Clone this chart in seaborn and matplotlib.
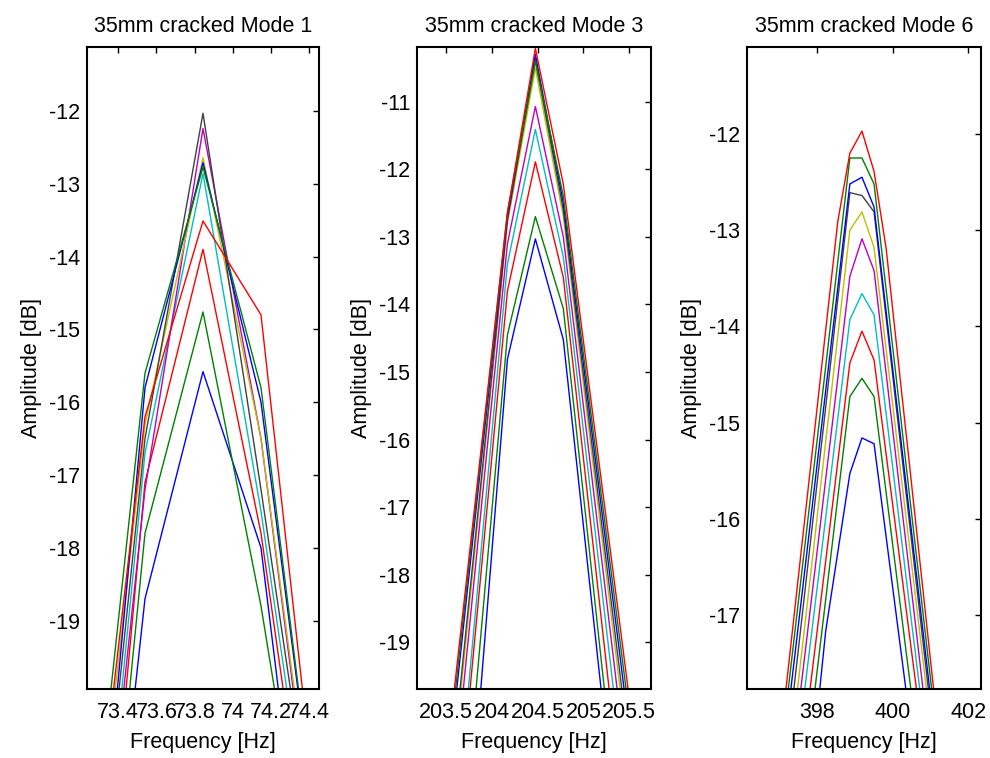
import matplotlib
matplotlib.use("Agg")
import matplotlib.pyplot as plt
import seaborn as sns
import pandas as pd

# ---------------- data ----------------
line_colors = ["#0000ff", "#008000", "#ff0000", "#00bfbf", "#bf00bf",
               "#bfbf00", "#404040", "#0000ff", "#008000", "#ff0000"]

titles = ["35mm cracked Mode 1", "35mm cracked Mode 3", "35mm cracked Mode 6"]

# Mode 1
freq_m1 = [73.236, 73.540, 73.844, 74.148, 74.452]
amp_m1 = [
    [-26.0, -18.7, -15.58, -18.0, -24.5],
    [-25.9, -17.8, -14.76, -18.8, -23.7],
    [-25.8, -17.1, -13.90, -17.8, -23.4],
    [-24.8, -16.7, -12.86, -17.5, -23.0],
    [-24.7, -17.2, -12.24, -16.5, -22.7],
    [-23.4, -16.3, -12.64, -16.5, -22.5],
    [-24.2, -16.5, -12.03, -17.2, -22.6],
    [-24.5, -15.8, -12.71, -16.0, -22.2],
    [-23.0, -15.6, -12.77, -15.8, -22.2],
    [-23.1, -16.2, -13.51, -14.8, -22.0],
]

# Mode 3
freq_m3 = [203.255, 203.560, 203.865, 204.170, 204.475, 204.780, 205.085, 205.390, 205.695]
amp_m3 = [
    [-30.1, -25.0, -19.93, -14.81, -13.03, -14.52, -18.35, -22.17, -26.0],
    [-28.4, -23.78, -19.12, -14.45, -12.70, -14.06, -17.90, -21.72, -25.5],
    [-27.0, -22.6, -18.21, -13.8, -11.89, -13.6, -17.32, -21.03, -24.7],
    [-26.9, -22.39, -17.9, -13.4, -11.41, -13.3, -16.87, -20.43, -24.0],
    [-25.6, -21.45, -17.28, -13.1, -11.07, -13.0, -16.48, -19.95, -23.4],
    [-25.3, -21.1, -16.96, -12.8, -10.50, -12.7, -16.15, -19.58, -23.0],
    [-25.0, -20.93, -16.85, -12.75, -10.38, -12.6, -15.99, -19.37, -22.76],
    [-24.3, -20.41, -16.56, -12.7, -10.30, -12.5, -15.81, -19.11, -22.42],
    [-24.0, -20.23, -16.44, -12.63, -10.40, -12.4, -15.65, -18.89, -22.14],
    [-23.8, -20.06, -16.36, -12.65, -10.21, -12.22, -15.45, -18.66, -21.9],
]

# Mode 6
freq_m6 = [396.95, 397.27, 397.59, 397.91, 398.23, 398.55, 398.87, 399.19,
           399.51, 399.83, 400.15, 400.47, 400.79, 401.11, 401.43]
amp_m6 = [
    [-22.0, -20.8, -19.6, -18.4, -17.17, -16.35, -15.53, -15.16, -15.22, -16.19, -17.16, -18.13, -19.1, -20.07, -21.0],
    [-21.0, -20.0, -18.95, -17.89, -16.84, -15.78, -14.73, -14.54, -14.73, -15.73, -16.73, -17.73, -18.73, -19.73, -20.7],
    [-20.6, -19.5, -18.5, -17.47, -16.44, -15.41, -14.38, -14.05, -14.35, -15.33, -16.3, -17.28, -18.25, -19.2, -20.2],
    [-20.1, -19.08, -18.05, -17.02, -15.99, -14.96, -13.93, -13.66, -13.88, -14.91, -15.94, -16.97, -18.0, -19.0, -20.1],
    [-19.8, -18.76, -17.71, -16.65, -15.59, -14.54, -13.48, -13.09, -13.42, -14.49, -15.57, -16.64, -17.72, -18.79, -19.9],
    [-19.6, -18.51, -17.41, -16.31, -15.2, -14.1, -13.0, -12.81, -13.18, -14.24, -15.3, -16.36, -17.42, -18.48, -19.5],
    [-19.3, -18.18, -17.07, -15.95, -14.84, -13.72, -12.61, -12.64, -12.81, -13.91, -15.02, -16.12, -17.23, -18.33, -19.4],
    [-18.98, -17.9, -16.83, -15.75, -14.67, -13.6, -12.52, -12.45, -12.76, -13.85, -14.94, -16.03, -17.12, -18.21, -19.3],
    [-18.75, -17.67, -16.58, -15.5, -14.42, -13.33, -12.25, -12.25, -12.52, -13.62, -14.72, -15.83, -16.93, -18.03, -19.13],
    [-18.58, -17.45, -16.31, -15.18, -14.04, -12.91, -12.2, -11.97, -12.39, -13.19, -14.36, -15.52, -16.69, -17.86, -19.02],
]

xticks_all = [[73.4, 73.6, 73.8, 74.0, 74.2, 74.4], [203.5, 204.0, 204.5, 205.0, 205.5], [398, 400, 402]]
xticklabels_all = [["73.4", "73.6", "73.8", "74", "74.2", "74.4"],
                   ["203.5", "204", "204.5", "205", "205.5"],
                   ["398", "400", "402"]]
yticks_all = [list(range(-19, -11)), list(range(-19, -10)), list(range(-17, -11))]
xlims = [(73.236, 74.452), (203.183, 205.737), (396.148, 402.34)]
ylims = [(-19.94, -11.12), (-19.69, -10.19), (-17.77, -11.096)]

# ---------------- style ----------------
sns.set_style("white")
plt.rcParams["font.family"] = ["Liberation Sans", "DejaVu Sans"]
plt.rcParams["text.color"] = "black"
plt.rcParams["axes.labelcolor"] = "black"
FS = 15.5

fig = plt.figure(figsize=(9.9, 7.58), dpi=100)
lefts = [87, 417, 747]
widths = [232, 234, 234]
bottom = (758 - 689) / 758
height = (689 - 47) / 758

panels = [(freq_m1, amp_m1), (freq_m3, amp_m3), (freq_m6, amp_m6)]
for i, (fr, amps) in enumerate(panels):
    ax = fig.add_axes([lefts[i] / 990, bottom, widths[i] / 990, height])
    rows = []
    for j, a in enumerate(amps):
        for f, v in zip(fr, a):
            rows.append({"freq": f, "amp": v, "line": j})
    df = pd.DataFrame(rows)
    sns.lineplot(data=df, x="freq", y="amp", hue="line", palette=line_colors,
                 estimator=None, sort=False, legend=False, linewidth=1.0, ax=ax)
    ax.set_xlim(*xlims[i])
    ax.set_ylim(*ylims[i])
    ax.set_xticks(xticks_all[i])
    ax.set_xticklabels(xticklabels_all[i])
    ax.set_yticks(yticks_all[i])
    ax.set_yticklabels([str(t) for t in yticks_all[i]])
    ax.set_title(titles[i], fontsize=FS, pad=11, color="black")
    ax.set_xlabel("Frequency [Hz]", fontsize=FS, labelpad=7)
    ax.set_ylabel("Amplitude [dB]", fontsize=FS, labelpad=5)
    ax.tick_params(direction="in", length=4, width=1.0, top=True, right=True,
                   labelsize=FS, colors="black")
    ax.tick_params(axis="x", pad=9)
    ax.tick_params(axis="y", pad=5)
    for s in ax.spines.values():
        s.set_visible(True)
        s.set_color("black")
        s.set_linewidth(1.5)

fig.savefig("out.png", dpi=100, facecolor="white")
